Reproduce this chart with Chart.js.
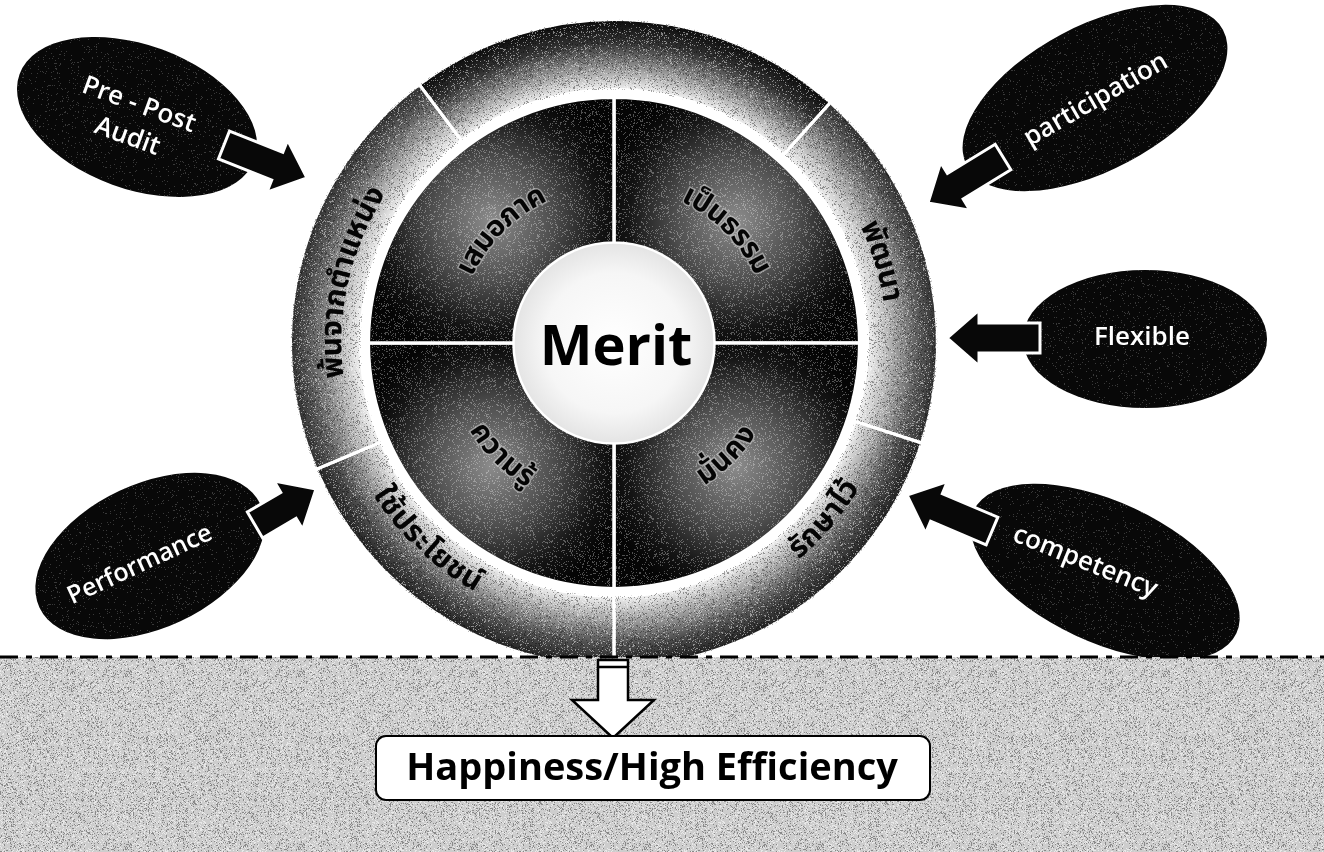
<!DOCTYPE html>
<html>
<head>
<meta charset="utf-8">
<script src="https://cdn.jsdelivr.net/npm/chart.js@4.4.1/dist/chart.umd.min.js"></script>
<style>
  html, body { margin: 0; padding: 0; background: #ffffff; }
  #wrap { width: 1324px; height: 852px; }
</style>
</head>
<body>
<div id="wrap"><canvas id="meritChart" width="1324" height="852"></canvas></div>
<script>
// --- 1. Data of the diagram ---
const centerLabel = 'Merit';
const ringLabels = ['', 'พัฒนา', 'รักษาไว้', 'ใช้ประโยชน์', 'พ้นจากตำแหน่ง'];
const ringSpans = [79, 66, 72, 67, 76];          // degrees of each outer segment
const quadLabels = ['เป็นธรรม', 'มั่นคง', 'ความรู้', 'เสมอภาค'];
const quadSpans = [90, 90, 90, 90];
const calloutLabels = [['Pre - Post', 'Audit'], ['participation'], ['Flexible'], ['competency'], ['Performance']];
const resultLabel = 'Happiness/High Efficiency';

const THAI_FONT = "'Noto Sans Thai', 'Noto Sans Thai UI', Loma, Garuda, 'Tlwg Typo', Kinnari, 'Noto Sans', 'DejaVu Sans', sans-serif";
const LATIN_FONT = "'Open Sans', 'Noto Sans', sans-serif";

const canvas = document.getElementById('meritChart');
const ctx = canvas.getContext('2d');

// --- 2. Helpers (grain, gradients, text) ---
function hash(x, y) {
    let h = (x * 374761393 + y * 668265263) | 0;
    h = Math.imul(h ^ (h >>> 13), 1274126177);
    return ((h ^ (h >>> 16)) >>> 0) / 4294967295;
}

function grainPattern(c, rgb, density, seed) {
    const size = 173;
    const off = document.createElement('canvas');
    off.width = off.height = size;
    const o = off.getContext('2d');
    const img = o.createImageData(size, size);
    for (let y = 0; y < size; y++) {
        for (let x = 0; x < size; x++) {
            if (hash(x + seed, y * 7 + seed) < density) {
                const k = (y * size + x) * 4;
                img.data[k] = rgb[0]; img.data[k + 1] = rgb[1]; img.data[k + 2] = rgb[2]; img.data[k + 3] = 255;
            }
        }
    }
    o.putImageData(img, 0, 0);
    return c.createPattern(off, 'repeat');
}

function grey(v) {
    v = Math.max(0, Math.min(255, Math.round(v)));
    return 'rgb(' + v + ',' + v + ',' + v + ')';
}

function midAngleOf(dataset, i) {
    const spans = dataset.data;
    const total = spans.reduce((a, b) => a + b, 0);
    let before = 0;
    for (let k = 0; k < i; k++) before += spans[k];
    return (-90 + (dataset.rotation || 0) + (before + spans[i] / 2) / total * 360) * Math.PI / 180;
}

// outer ring: light at the inner edge, darker outside (top/bottom darker)
const ringDark = [1.25, 0.75, 0.95, 0.95, 0.75];
function ringFill(context) {
    const chart = context.chart;
    const area = chart.chartArea;
    const ctrl = chart.getDatasetMeta(context.datasetIndex).controller;
    if (!area || !ctrl.outerRadius) return '#999999';
    const cx = (area.left + area.right) / 2, cy = (area.top + area.bottom) / 2;
    const d = ringDark[context.dataIndex] || 0.8;
    const g = chart.ctx.createRadialGradient(cx, cy, ctrl.innerRadius, cx, cy, ctrl.outerRadius);
    g.addColorStop(0, '#f2f2f2');
    g.addColorStop(0.3, grey(228 - 60 * d));
    g.addColorStop(0.68, grey(175 - 100 * d));
    g.addColorStop(1, grey(105 - 75 * d));
    return g;
}

// inner quadrants: black with a lighter blob in the middle of each quadrant
function quadFill(context) {
    const chart = context.chart;
    const area = chart.chartArea;
    const ctrl = chart.getDatasetMeta(context.datasetIndex).controller;
    if (!area || !ctrl.outerRadius) return '#222222';
    const cx = (area.left + area.right) / 2, cy = (area.top + area.bottom) / 2;
    const a = midAngleOf(context.dataset, context.dataIndex);
    const r = (ctrl.innerRadius + ctrl.outerRadius) / 2;
    const bx = cx + r * Math.cos(a), by = cy + r * Math.sin(a);
    const g = chart.ctx.createRadialGradient(bx, by, 0, bx, by, 135);
    g.addColorStop(0, '#8c8c8c');
    g.addColorStop(0.45, '#4e4e4e');
    g.addColorStop(0.8, '#141414');
    g.addColorStop(1, '#050505');
    return g;
}

// text following a circle; upper half reads clockwise, lower half counter-clockwise
function drawArcText(c, text, cx, cy, r, mid, font, fill, halo) {
    c.save();
    c.font = font;
    c.textAlign = 'center';
    c.textBaseline = 'middle';
    const seg = (typeof Intl !== 'undefined' && Intl.Segmenter)
        ? Array.from(new Intl.Segmenter('th', { granularity: 'grapheme' }).segment(text), s => s.segment)
        : Array.from(text);
    const widths = seg.map(s => c.measureText(s).width);
    const total = widths.reduce((a, b) => a + b, 0);
    const lower = Math.sin(mid) > 0.05;
    const dir = lower ? -1 : 1;
    let a = mid - dir * total / 2 / r;
    seg.forEach((s, i) => {
        const th = a + dir * widths[i] / 2 / r;
        c.save();
        c.translate(cx + r * Math.cos(th), cy + r * Math.sin(th));
        c.rotate(th + (lower ? -Math.PI / 2 : Math.PI / 2));
        if (halo) {
            c.strokeStyle = halo;
            c.lineWidth = 3;
            c.strokeText(s, 0, 0);
        }
        c.fillStyle = fill;
        c.fillText(s, 0, 0);
        c.restore();
        a += dir * widths[i] / r;
    });
    c.restore();
}

function blockArrow(c, x1, y1, x2, y2, shaftW, headW, headL, fill, stroke, lw) {
    const ang = Math.atan2(y2 - y1, x2 - x1);
    const len = Math.hypot(x2 - x1, y2 - y1);
    c.save();
    c.translate(x1, y1);
    c.rotate(ang);
    c.beginPath();
    c.moveTo(0, -shaftW / 2);
    c.lineTo(len - headL, -shaftW / 2);
    c.lineTo(len - headL, -headW / 2);
    c.lineTo(len, 0);
    c.lineTo(len - headL, headW / 2);
    c.lineTo(len - headL, shaftW / 2);
    c.lineTo(0, shaftW / 2);
    c.closePath();
    c.fillStyle = fill;
    c.fill();
    c.lineJoin = 'miter';
    c.strokeStyle = stroke;
    c.lineWidth = lw;
    c.stroke();
    c.restore();
}

// --- 3. Plugin: labels, callouts and the result band ---
const ringTextShift = [0, -2, -14, 10, -2];     // degrees, label position inside its segment
const calloutStyle = [
    { x: 137, y: 117, rx: 125, ry: 72, rot: 20, tx: 133, ty: 121, trot: 20, size: 26, arrow: [224, 145, 307, 178] },
    { x: 1095, y: 98, rx: 145, ry: 72, rot: -28, tx: 1096, ty: 100, trot: -30, size: 26, arrow: [1003, 157, 928, 203] },
    { x: 1145, y: 339, rx: 122, ry: 69, rot: 0, tx: 1142, ty: 338, trot: 0, size: 26, arrow: [1040, 338, 947, 338] },
    { x: 1105, y: 572, rx: 145, ry: 70, rot: 25, tx: 1085, ty: 562, trot: 22, size: 26, arrow: [992, 531, 907, 495] },
    { x: 150, y: 556, rx: 122, ry: 72, rot: -25, tx: 140, ty: 565, trot: -25, size: 25, arrow: [255, 525, 316, 489] }
];

const diagramPlugin = {
    id: 'meritDiagram',
    beforeDraw(chart) {
        const c = chart.ctx;
        c.save();
        c.fillStyle = '#ffffff';
        c.fillRect(0, 0, chart.width, chart.height);
        c.restore();
    },
    afterDatasetsDraw(chart) {
        const c = chart.ctx;
        const ringMeta = chart.getDatasetMeta(0);
        const quadMeta = chart.getDatasetMeta(2);
        const p0 = ringMeta.data[0].getProps(['x', 'y']);
        const cx = p0.x, cy = p0.y;
        const rOut = ringMeta.controller.outerRadius, rRingIn = ringMeta.controller.innerRadius;
        const rQuadOut = quadMeta.controller.outerRadius, rQuadIn = quadMeta.controller.innerRadius;

        // grain over the circle
        c.save();
        c.beginPath();
        c.arc(cx, cy, rOut, 0, Math.PI * 2);
        c.arc(cx, cy, rRingIn, 0, Math.PI * 2, true);
        c.clip();
        c.globalAlpha = 0.35;
        c.fillStyle = grainPattern(c, [0, 0, 0], 0.16, 11);
        c.fillRect(cx - rOut, cy - rOut, rOut * 2, rOut * 2);
        c.globalAlpha = 0.45;
        c.fillStyle = grainPattern(c, [255, 255, 255], 0.12, 37);
        c.fillRect(cx - rOut, cy - rOut, rOut * 2, rOut * 2);
        c.restore();

        c.save();
        c.beginPath();
        c.arc(cx, cy, rQuadOut - 2, 0, Math.PI * 2);
        c.arc(cx, cy, rQuadIn + 1, 0, Math.PI * 2, true);
        c.clip();
        c.globalAlpha = 0.3;
        c.fillStyle = grainPattern(c, [255, 255, 255], 0.14, 53);
        c.fillRect(cx - rOut, cy - rOut, rOut * 2, rOut * 2);
        c.restore();

        // redraw white separators over the grain
        c.save();
        c.strokeStyle = '#ffffff';
        c.lineWidth = 3;
        ringMeta.data.forEach(arc => {
            const a = arc.startAngle;
            c.beginPath();
            c.moveTo(cx + rRingIn * Math.cos(a), cy + rRingIn * Math.sin(a));
            c.lineTo(cx + rOut * Math.cos(a), cy + rOut * Math.sin(a));
            c.stroke();
        });
        quadMeta.data.forEach(arc => {
            const a = arc.startAngle;
            c.beginPath();
            c.moveTo(cx + rQuadIn * Math.cos(a), cy + rQuadIn * Math.sin(a));
            c.lineTo(cx + rQuadOut * Math.cos(a), cy + rQuadOut * Math.sin(a));
            c.stroke();
        });
        c.restore();

        // centre disc
        c.save();
        const cg = c.createRadialGradient(cx, cy, 0, cx, cy, rQuadIn);
        cg.addColorStop(0, '#ffffff');
        cg.addColorStop(0.7, '#f6f6f6');
        cg.addColorStop(1, '#e4e4e4');
        c.beginPath();
        c.arc(cx, cy, rQuadIn - 1, 0, Math.PI * 2);
        c.fillStyle = cg;
        c.fill();
        c.fillStyle = '#000000';
        c.font = "bold 56px " + LATIN_FONT;
        c.textAlign = 'center';
        c.textBaseline = 'middle';
        c.fillText(centerLabel, cx + 2, cy + 6);
        c.restore();

        // Thai labels
        ringMeta.data.forEach((arc, i) => {
            if (!ringLabels[i]) return;
            const mid = (arc.startAngle + arc.endAngle) / 2 + (ringTextShift[i] || 0) * Math.PI / 180;
            const r = rRingIn + (rOut - rRingIn) * 0.36;
            drawArcText(c, ringLabels[i], cx, cy, r, mid, "bold 30px " + THAI_FONT, '#050505', null);
        });
        quadMeta.data.forEach((arc, i) => {
            const mid = (arc.startAngle + arc.endAngle) / 2;
            const r = rQuadIn + (rQuadOut - rQuadIn) * 0.43;
            drawArcText(c, quadLabels[i], cx, cy, r, mid, "bold 29px " + THAI_FONT, '#050505', 'rgba(200,200,200,0.6)');
        });
    },
    afterDraw(chart) {
        const c = chart.ctx;
        const W = chart.width, H = chart.height;

        // callout ellipses with arrows into the circle
        const darkGrain = grainPattern(c, [90, 90, 90], 0.05, 71);
        calloutStyle.forEach((s, i) => {
            c.save();
            c.beginPath();
            c.ellipse(s.x, s.y, s.rx, s.ry, s.rot * Math.PI / 180, 0, Math.PI * 2);
            c.fillStyle = '#080808';
            c.fill();
            c.clip();
            c.globalAlpha = 0.6;
            c.fillStyle = darkGrain;
            c.fillRect(s.x - s.rx, s.y - s.rx, s.rx * 2, s.rx * 2);
            c.restore();

            const a = s.arrow;
            blockArrow(c, a[0], a[1], a[2], a[3], 30, 56, 32, '#080808', '#ffffff', 3);

            c.save();
            c.translate(s.tx, s.ty);
            c.rotate(s.trot * Math.PI / 180);
            c.fillStyle = '#ffffff';
            c.font = "600 " + s.size + "px " + LATIN_FONT;
            c.textAlign = 'center';
            c.textBaseline = 'middle';
            const lines = calloutLabels[i];
            const lh = s.size * 1.3;
            lines.forEach((t, k) => c.fillText(t, 0, (k - (lines.length - 1) / 2) * lh));
            c.restore();
        });

        // grey band at the bottom
        const bandTop = 657;
        c.save();
        c.fillStyle = '#cdcdcd';
        c.fillRect(0, bandTop, W, H - bandTop);
        c.globalAlpha = 0.5;
        c.fillStyle = grainPattern(c, [70, 70, 70], 0.18, 5);
        c.fillRect(0, bandTop, W, H - bandTop);
        c.globalAlpha = 0.7;
        c.fillStyle = grainPattern(c, [245, 245, 245], 0.2, 91);
        c.fillRect(0, bandTop, W, H - bandTop);
        c.restore();

        // dash-dot border line
        c.save();
        c.strokeStyle = '#000000';
        c.lineWidth = 3;
        c.setLineDash([18, 8, 6, 8]);
        c.beginPath();
        c.moveTo(0, bandTop);
        c.lineTo(W, bandTop);
        c.stroke();
        c.restore();

        // hollow down arrow
        c.save();
        c.beginPath();
        c.moveTo(598, 660);
        c.lineTo(628, 660);
        c.lineTo(628, 700);
        c.lineTo(654, 700);
        c.lineTo(613, 738);
        c.lineTo(572, 700);
        c.lineTo(598, 700);
        c.closePath();
        c.fillStyle = '#ffffff';
        c.fill();
        c.strokeStyle = '#000000';
        c.lineWidth = 2.5;
        c.stroke();
        c.beginPath();
        c.moveTo(598, 667);
        c.lineTo(628, 667);
        c.stroke();
        c.restore();

        // result box
        c.save();
        c.beginPath();
        c.roundRect(376, 736, 554, 64, 10);
        c.fillStyle = '#ffffff';
        c.fill();
        c.strokeStyle = '#000000';
        c.lineWidth = 2;
        c.stroke();
        let fs = 42;
        c.font = "bold " + fs + "px " + LATIN_FONT;
        const w = c.measureText(resultLabel).width;
        if (w > 492) fs = Math.floor(fs * 492 / w);
        c.font = "bold " + fs + "px " + LATIN_FONT;
        c.fillStyle = '#000000';
        c.textAlign = 'center';
        c.textBaseline = 'middle';
        c.fillText(resultLabel, 652, 769);
        c.restore();
    }
};

// --- 4. Chart (doughnut: outer ring, white gap, quadrants) ---
const meritChart = new Chart(ctx, {
    type: 'doughnut',
    data: {
        labels: ringLabels,
        datasets: [
            { label: 'ring', data: ringSpans, rotation: -37, weight: 70, backgroundColor: ringFill, borderColor: '#ffffff', borderWidth: 3 },
            { label: 'gap', data: [1], weight: 8, backgroundColor: '#ffffff', borderWidth: 0 },
            { label: 'quadrants', data: quadSpans, rotation: 0, weight: 145, backgroundColor: quadFill, borderColor: '#ffffff', borderWidth: 3 }
        ]
    },
    options: {
        responsive: false,
        animation: false,
        events: [],
        cutout: '31%',
        layout: { padding: { left: 289, top: 18, right: 385, bottom: 184 } },
        plugins: {
            legend: { display: false },
            tooltip: { enabled: false }
        }
    },
    plugins: [diagramPlugin]
});
</script>
</body>
</html>
